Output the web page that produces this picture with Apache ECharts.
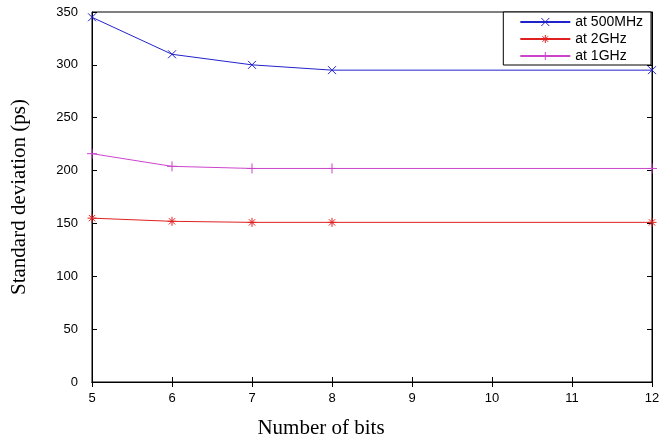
<!DOCTYPE html>
<html><head><meta charset="utf-8">
<script src="https://cdn.jsdelivr.net/npm/echarts@6/dist/echarts.min.js"></script>
<style>html,body{margin:0;padding:0;background:#fff}#c{width:671px;height:444px}</style>
</head><body><div id="c"></div>
<script>
const bits = [5, 6, 7, 8, 12];
const s500MHz = [345, 310, 300, 295, 295];
const s2GHz = [155, 152, 151, 151, 151];
const s1GHz = [216, 204, 202, 202, 202];
const names = ['at 500MHz', 'at 2GHz', 'at 1GHz'];

const xSym = 'path://M0,0L10,10M10,0L0,10';
const starSym = 'path://M5,0L5,10M0,5L10,5M1.5,1.5L8.5,8.5M8.5,1.5L1.5,8.5';
const plusSym = 'path://M5,0L5,10M0,5L10,5';

function mk(name, vals, color, sym, size) {
  return {
    name, type: 'line', data: bits.map((b, i) => [b, vals[i]]),
    symbol: sym, symbolSize: size, showAllSymbol: true,
    lineStyle: { color, width: 1 },
    itemStyle: { color: 'rgba(0,0,0,0)', borderColor: color, borderWidth: 1 },
    emphasis: { disabled: true }, animation: false
  };
}
const tickOnly = { show: true, inside: true, length: 5, lineStyle: { color: '#000' } };
const chart = echarts.init(document.getElementById('c'));
chart.setOption({
  animation: false,
  grid: { left: 92, right: 19, top: 12, bottom: 58, show: true, borderColor: '#000', borderWidth: 1 },
  legend: {
    right: 20, top: 12, orient: 'vertical', itemWidth: 50, itemHeight: 10, itemGap: 3,
    backgroundColor: '#fff', borderColor: '#000', borderWidth: 1, padding: [3, 8, 2, 16],
    textStyle: { fontFamily: 'Liberation Sans', fontSize: 14, color: '#000' },
    itemStyle: { borderWidth: 1 },
    data: names
  },
  xAxis: [{
    type: 'value', min: 5, max: 12, interval: 1,
    name: 'Number of bits', nameLocation: 'middle', nameGap: 36,
    nameTextStyle: { fontFamily: 'Liberation Serif', fontSize: 21, color: '#000', padding: [0, 102, 0, 0] },
    axisLine: { lineStyle: { color: '#000' } },
    axisTick: tickOnly,
    axisLabel: { fontFamily: 'Liberation Sans', fontSize: 13, color: '#000', margin: 10 },
    splitLine: { show: false }
  }, {
    type: 'value', min: 5, max: 12, interval: 1, position: 'top',
    axisLine: { show: true, lineStyle: { color: '#000' } }, axisTick: tickOnly,
    axisLabel: { show: false }, splitLine: { show: false }
  }],
  yAxis: [{
    type: 'value', min: 0, max: 350, interval: 50,
    name: 'Standard deviation (ps)', nameLocation: 'middle', nameGap: 62,
    nameTextStyle: { fontFamily: 'Liberation Serif', fontSize: 21, color: '#000' },
    axisLine: { show: true, lineStyle: { color: '#000' } },
    axisTick: tickOnly,
    axisLabel: { fontFamily: 'Liberation Sans', fontSize: 13, color: '#000', margin: 14 },
    splitLine: { show: false }
  }, {
    type: 'value', min: 0, max: 350, interval: 50, position: 'right',
    axisLine: { show: true, lineStyle: { color: '#000' } }, axisTick: tickOnly,
    axisLabel: { show: false }, splitLine: { show: false }
  }],
  series: [
    mk(names[0], s500MHz, '#2222cc', xSym, 8),
    mk(names[1], s2GHz, '#e02020', starSym, 9),
    mk(names[2], s1GHz, '#cc44cc', plusSym, 10)
  ]
});
</script></body></html>
